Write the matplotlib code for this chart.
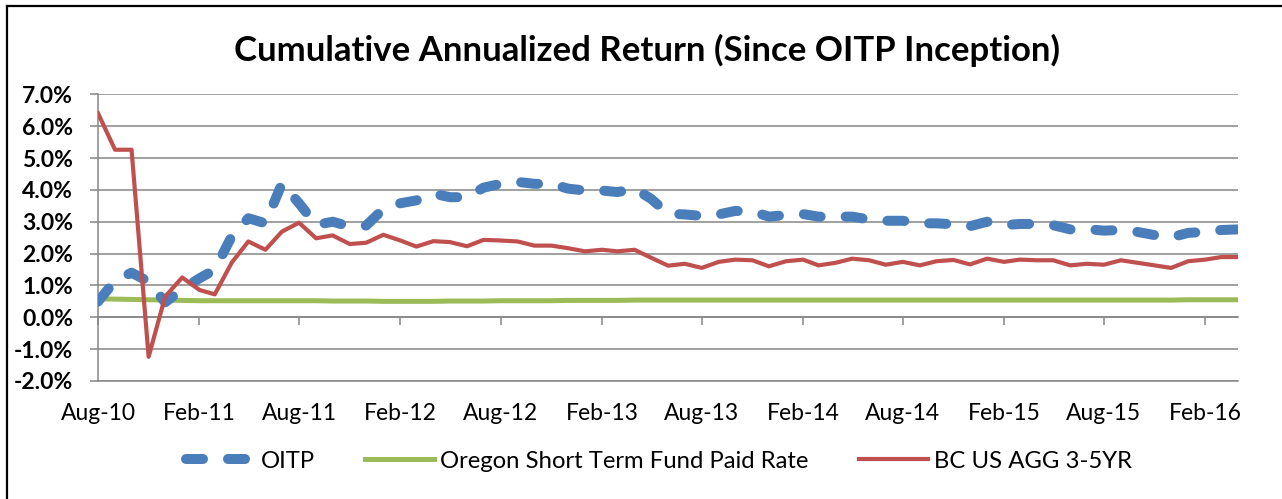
import matplotlib
matplotlib.use("Agg")
import matplotlib.pyplot as plt
import matplotlib.dates as mdates
from matplotlib.ticker import FuncFormatter
import pandas as pd

plt.rcParams['font.family'] = ['Lato', 'DejaVu Sans']

# monthly points, Aug-10 .. Apr-16
months = pd.date_range("2010-08-01", periods=69, freq="MS")

oitp = [0.49, 1.15, 1.40, 1.12, 0.47, 0.88, 1.22, 1.49, 2.55, 3.11,
        2.95, 4.20, 3.58, 2.90, 3.00, 2.85, 2.88, 3.40, 3.58, 3.67,
        3.88, 3.77, 3.77, 4.07, 4.19, 4.25, 4.19, 4.19, 4.04, 3.98,
        3.98, 3.93, 4.04, 3.72, 3.25, 3.23, 3.18, 3.23, 3.34, 3.32,
        3.16, 3.21, 3.24, 3.16, 3.16, 3.16, 3.07, 3.03, 3.03, 2.95,
        2.95, 2.92, 2.86, 3.00, 2.89, 2.93, 2.93, 2.89, 2.76, 2.77,
        2.72, 2.74, 2.68, 2.58, 2.51, 2.65, 2.68, 2.74, 2.76]

ostf = [0.58, 0.57, 0.56, 0.55, 0.54, 0.53, 0.52, 0.52, 0.52, 0.52,
        0.52, 0.52, 0.52, 0.52, 0.51, 0.51, 0.51, 0.50, 0.50, 0.50,
        0.50, 0.51, 0.51, 0.51, 0.52, 0.52, 0.52, 0.52, 0.53, 0.53,
        0.53, 0.53, 0.54, 0.54, 0.54, 0.54, 0.54, 0.54, 0.54, 0.54,
        0.54, 0.54, 0.54, 0.54, 0.54, 0.54, 0.54, 0.54, 0.54, 0.54,
        0.54, 0.54, 0.54, 0.54, 0.54, 0.54, 0.54, 0.54, 0.54, 0.54,
        0.54, 0.54, 0.54, 0.54, 0.54, 0.55, 0.55, 0.55, 0.55]

bc_agg = [6.41, 5.26, 5.26, -1.24, 0.65, 1.25, 0.86, 0.72, 1.72, 2.38,
          2.12, 2.69, 2.97, 2.48, 2.57, 2.30, 2.34, 2.59, 2.41, 2.22,
          2.39, 2.36, 2.23, 2.43, 2.41, 2.38, 2.25, 2.25, 2.17, 2.07,
          2.12, 2.07, 2.12, 1.87, 1.62, 1.68, 1.55, 1.74, 1.81, 1.79,
          1.60, 1.76, 1.81, 1.63, 1.71, 1.84, 1.79, 1.65, 1.74, 1.63,
          1.76, 1.80, 1.66, 1.84, 1.74, 1.81, 1.79, 1.79, 1.63, 1.68,
          1.65, 1.79, 1.71, 1.63, 1.55, 1.76, 1.81, 1.89, 1.89]

y_ticks = [-2, -1, 0, 1, 2, 3, 4, 5, 6, 7]
x_ticks = months[::6]

grid_col = '#868686'

fig = plt.figure(figsize=(12.82, 4.99), dpi=100)
ax = fig.add_axes([0.0764, 0.2365, 0.8895, 0.5745])

ax.plot(months, oitp, color='#4A7EBB', lw=7.2, dashes=(1.7, 2.5),
        dash_capstyle='round', label='OITP', zorder=3)
ax.plot(months, ostf, color='#9BBB59', lw=3.6,
        label='Oregon Short Term Fund Paid Rate', zorder=2)
ax.plot(months, bc_agg, color='#C0504D', lw=3.0,
        label='BC US AGG 3-5YR', zorder=4)

ax.set_ylim(-2, 7)
ax.set_xlim(months[0], months[-1])
ax.set_yticks(y_ticks)
ax.yaxis.set_major_formatter(FuncFormatter(lambda v, p: f"{v:.1f}%"))
ax.grid(axis='y', color=grid_col, lw=1.1)
ax.set_axisbelow(True)

ax.set_xticks(x_ticks)
ax.xaxis.set_major_formatter(mdates.DateFormatter('%b-%y'))
ax.tick_params(axis='x', length=0, pad=16, labelsize=16.5)
ax.tick_params(axis='y', length=6, color=grid_col, width=1.1, pad=12, labelsize=16.5)
for lab in ax.get_yticklabels():
    lab.set_fontweight('bold')

for s in ['top', 'right']:
    ax.spines[s].set_visible(False)
ax.spines['left'].set_color(grid_col)
ax.spines['bottom'].set_color(grid_col)
ax.spines['left'].set_linewidth(1.1)
ax.spines['bottom'].set_linewidth(1.1)

# horizontal axis crosses at 0%
sec = ax.secondary_xaxis(2 / 9)
sec.set_xticks(x_ticks)
sec.tick_params(axis='x', direction='out', length=6, color=grid_col,
                width=1.1, labelbottom=False, labeltop=False)
sec.spines['bottom'].set_color(grid_col)
sec.spines['bottom'].set_linewidth(1.1)

fig.text(0.505, 0.898, 'Cumulative Annualized Return (Since OITP Inception)',
         ha='center', va='center', fontsize=25, fontweight='bold')

fig.legend(loc='center', bbox_to_anchor=(0.514, 0.076), ncol=3, frameon=False,
           fontsize=17.2, handlelength=2.9, handletextpad=0.25, columnspacing=2.1)

# chart border (only left and top visible in the crop)
fig.add_artist(plt.Line2D([0.0058, 0.0058], [0, 0.987], color='black', lw=1.6,
                          transform=fig.transFigure))
fig.add_artist(plt.Line2D([0.0058, 1], [0.987, 0.987], color='black', lw=1.6,
                          transform=fig.transFigure))

fig.savefig('out.png', dpi=100)
